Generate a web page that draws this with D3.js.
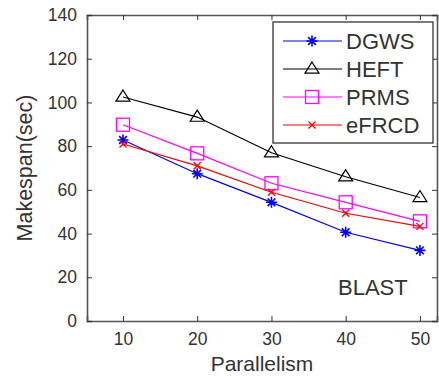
<!DOCTYPE html>
<html><head><meta charset="utf-8">
<script src="https://cdn.jsdelivr.net/npm/d3@7"></script>
<style>body{margin:0;background:#fff}svg{display:block}text{font-family:"Liberation Sans",Arial,sans-serif;fill:#333}</style>
</head><body><svg id="c" width="439" height="378"></svg>
<script>
const parallelism = [10, 20, 30, 40, 50];
const dgws  = [82.8, 67.4, 54.3, 40.6, 32.3];
const heft  = [102.5, 93.3, 77, 66, 56.5];
const prms  = [89.8, 76.7, 63, 54.3, 45.6];
const efrcd = [81, 71, 58.9, 49.3, 43.3];
const yTicks = [0, 20, 40, 60, 80, 100, 120, 140];
const seriesNames = ["DGWS", "HEFT", "PRMS", "eFRCD"];
const seriesColors = ["#0000ff", "#000000", "#ff00ff", "#ff0000"];
const seriesMarkers = ["star", "triangle", "square", "cross"];
const seriesValues = [dgws, heft, prms, efrcd];

const L = 87, R = 437, T = 15, B = 321;
const svg = d3.select("#c");
const x = d3.scaleLinear().domain([5.15, 52.3]).range([L, R]);
const y = d3.scaleLinear().domain([0, 140]).range([B, T]);
const axisColor = "#555";

// axes
const gx = svg.append("g").attr("transform", `translate(0,${B})`)
  .call(d3.axisBottom(x).tickValues(parallelism).tickSize(-5).tickPadding(12).tickFormat(d3.format("d")));
const gxt = svg.append("g").attr("transform", `translate(0,${T})`)
  .call(d3.axisTop(x).tickValues(parallelism).tickSize(-5).tickFormat(""));
const gy = svg.append("g").attr("transform", `translate(${L},0)`)
  .call(d3.axisLeft(y).tickValues(yTicks).tickSize(-5).tickPadding(10));
const gyr = svg.append("g").attr("transform", `translate(${R},0)`)
  .call(d3.axisRight(y).tickValues(yTicks).tickSize(-5).tickFormat(""));
[gx, gxt, gy, gyr].forEach(g => {
  g.select(".domain").attr("stroke", axisColor).attr("stroke-width", 1.6);
  g.selectAll(".tick line").attr("stroke", "#333").attr("stroke-width", 1);
  g.selectAll(".tick text").attr("fill", "#333").style("font-size", "17.5px")
    .style("font-family", '"Liberation Sans",Arial,sans-serif');
});

// axis labels
svg.append("text").attr("x", 262).attr("y", 371).attr("text-anchor", "middle")
  .style("font-size", "21px").text("Parallelism");
svg.append("text").attr("transform", "translate(32,168) rotate(-90)").attr("text-anchor", "middle")
  .style("font-size", "21.5px").text("Makespan(sec)");

// markers
function drawMarker(g, type, color, cx, cy) {
  if (type === "star") {
    const s = 5.5;
    g.append("path").attr("d",
      `M${cx-s},${cy}L${cx+s},${cy}M${cx},${cy-s}L${cx},${cy+s}M${cx-s*0.7},${cy-s*0.7}L${cx+s*0.7},${cy+s*0.7}M${cx-s*0.7},${cy+s*0.7}L${cx+s*0.7},${cy-s*0.7}`)
      .attr("stroke", color).attr("stroke-width", 1.6).attr("fill", "none");
  } else if (type === "triangle") {
    const s = 7;
    g.append("path").attr("d", `M${cx},${cy-s}L${cx+s},${cy+s*0.6}L${cx-s},${cy+s*0.6}Z`)
      .attr("stroke", color).attr("stroke-width", 1.2).attr("fill", "none");
  } else if (type === "square") {
    const s = 6.5;
    g.append("rect").attr("x", cx-s).attr("y", cy-s).attr("width", 2*s).attr("height", 2*s)
      .attr("stroke", color).attr("stroke-width", 1.3).attr("fill", "none");
  } else {
    const s = 3.5;
    g.append("path").attr("d", `M${cx-s},${cy-s}L${cx+s},${cy+s}M${cx-s},${cy+s}L${cx+s},${cy-s}`)
      .attr("stroke", color).attr("stroke-width", 1.3).attr("fill", "none");
  }
}

const line = d3.line().x((d, i) => x(parallelism[i])).y(d => y(d));
seriesValues.forEach((vals, k) => {
  const g = svg.append("g");
  g.append("path").attr("d", line(vals)).attr("fill", "none")
    .attr("stroke", seriesColors[k]).attr("stroke-width", 1.2);
  vals.forEach((v, i) => drawMarker(g, seriesMarkers[k], seriesColors[k], x(parallelism[i]), y(v)));
});

// BLAST label
svg.append("text").attr("x", 338).attr("y", 295).style("font-size", "22px").text("BLAST");

// legend
const lg = svg.append("g");
lg.append("rect").attr("x", 273).attr("y", 22).attr("width", 160).attr("height", 121)
  .attr("fill", "#fff").attr("stroke", "#333").attr("stroke-width", 1.3);
const legY = [41, 69, 97, 125];
seriesNames.forEach((name, k) => {
  lg.append("line").attr("x1", 283).attr("x2", 342).attr("y1", legY[k]).attr("y2", legY[k])
    .attr("stroke", seriesColors[k]).attr("stroke-width", 1.2);
  drawMarker(lg, seriesMarkers[k], seriesColors[k], 312, legY[k]);
  lg.append("text").attr("x", 346).attr("y", legY[k] + 8).style("font-size", "22px").text(name);
});
</script></body></html>
